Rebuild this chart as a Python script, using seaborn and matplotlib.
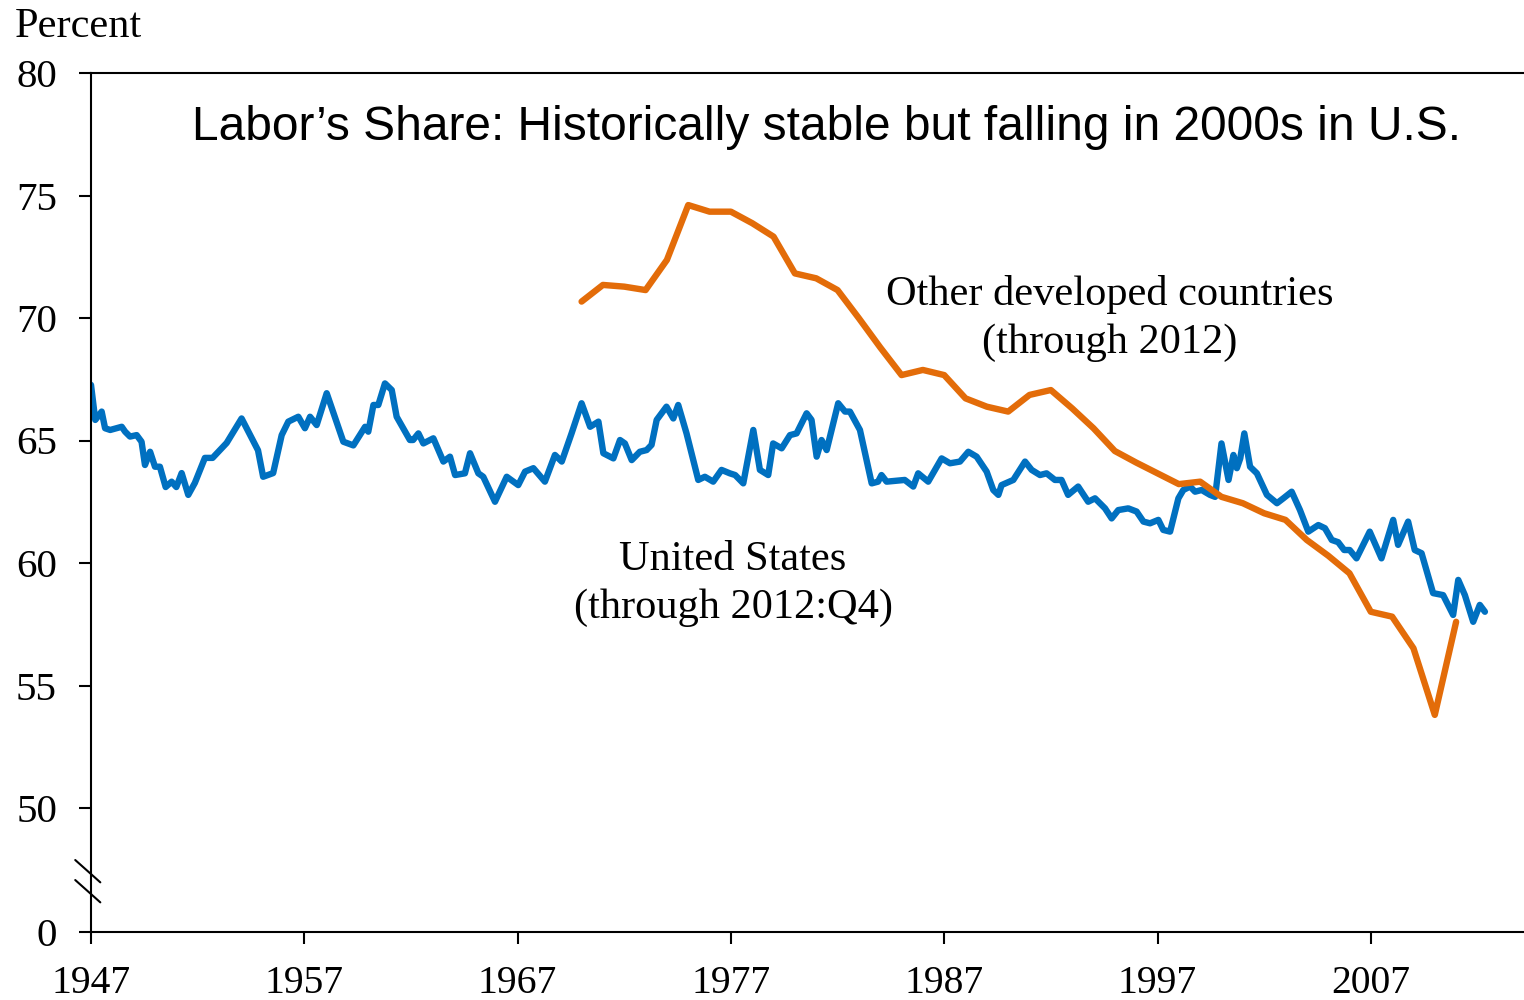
import matplotlib
matplotlib.use('Agg')
import matplotlib.pyplot as plt
import seaborn as sns
import pandas as pd

# United States labor share (fractional year, percent)
us_years = [
    1947.0, 1947.2, 1947.5, 1947.66, 1947.9, 1948.44, 1948.6, 1948.83, 1949.14, 1949.37,
    1949.53, 1949.77, 1950.0, 1950.23, 1950.5, 1950.78, 1951.0, 1951.25, 1951.56, 1951.87,
    1952.34, 1952.7, 1953.36, 1954.06, 1954.83, 1955.07, 1955.54, 1955.94, 1956.25, 1956.72,
    1957.03, 1957.27, 1957.58, 1958.05, 1958.83, 1959.3, 1959.85, 1960.0, 1960.24, 1960.47,
    1960.78, 1961.1, 1961.33, 1961.95, 1962.1, 1962.35, 1962.58, 1963.05, 1963.52, 1963.83,
    1964.07, 1964.53, 1964.77, 1965.16, 1965.39, 1965.94, 1966.49, 1967.03, 1967.35, 1967.74,
    1968.28, 1968.75, 1969.07, 1969.53, 1970.0, 1970.4, 1970.79, 1971.02, 1971.49, 1971.8,
    1972.03, 1972.35, 1972.73, 1973.05, 1973.28, 1973.52, 1973.98, 1974.3, 1974.53, 1974.92,
    1975.47, 1975.78, 1976.17, 1976.56, 1976.95, 1977.2, 1977.58, 1978.05, 1978.36, 1978.75,
    1978.98, 1979.38, 1979.77, 1980.08, 1980.55, 1980.78, 1981.02, 1981.25, 1981.49, 1982.03,
    1982.35, 1982.58, 1983.05, 1983.6, 1983.9, 1984.06, 1984.3, 1985.15, 1985.55, 1985.78,
    1986.25, 1986.88, 1987.27, 1987.74, 1988.13, 1988.52, 1988.99, 1989.3, 1989.54, 1989.69,
    1990.24, 1990.79, 1991.1, 1991.49, 1991.8, 1992.19, 1992.5, 1992.81, 1993.28, 1993.75,
    1994.07, 1994.54, 1994.85, 1995.16, 1995.63, 1996.02, 1996.34, 1996.65, 1997.04, 1997.27,
    1997.59, 1997.98, 1998.21, 1998.53, 1998.76, 1999.07, 1999.46, 1999.7, 2000.0, 2000.33,
    2000.56, 2000.72, 2000.88, 2001.07, 2001.34, 2001.66, 2002.13, 2002.6, 2002.9, 2003.29,
    2003.68, 2004.07, 2004.54, 2004.85, 2005.17, 2005.47, 2005.75, 2006.01, 2006.33, 2006.95,
    2007.5, 2008.05, 2008.28, 2008.75, 2009.06, 2009.38, 2009.92, 2010.39, 2010.86, 2011.1,
    2011.41, 2011.8, 2012.11, 2012.35,
]
us_share = [
    67.27, 65.84, 66.18, 65.5, 65.43, 65.56, 65.36, 65.16, 65.22, 64.95,
    64.0, 64.54, 63.93, 63.93, 63.1, 63.32, 63.1, 63.67, 62.78, 63.27,
    64.29, 64.29, 64.9, 65.9, 64.6, 63.52, 63.67, 65.22, 65.77, 65.97,
    65.5, 65.97, 65.63, 66.93, 64.95, 64.8, 65.56, 65.36, 66.45, 66.45,
    67.33, 67.06, 65.97, 65.02, 65.02, 65.29, 64.88, 65.09, 64.14, 64.34,
    63.59, 63.66, 64.48, 63.66, 63.52, 62.5, 63.52, 63.18, 63.73, 63.87,
    63.32, 64.41, 64.14, 65.29, 66.52, 65.56, 65.77, 64.48, 64.27, 65.02,
    64.88, 64.2, 64.54, 64.61, 64.82, 65.84, 66.38, 65.9, 66.45, 65.29,
    63.39, 63.52, 63.32, 63.8, 63.66, 63.59, 63.25, 65.43, 63.8, 63.59,
    64.88, 64.68, 65.22, 65.29, 66.11, 65.84, 64.34, 65.02, 64.61, 66.52,
    66.18, 66.18, 65.43, 63.25, 63.32, 63.59, 63.32, 63.39, 63.12, 63.66,
    63.32, 64.27, 64.07, 64.14, 64.54, 64.34, 63.73, 62.98, 62.78, 63.18,
    63.39, 64.14, 63.8, 63.59, 63.66, 63.39, 63.39, 62.78, 63.12, 62.5,
    62.64, 62.23, 61.82, 62.16, 62.23, 62.1, 61.69, 61.62, 61.76, 61.35,
    61.28, 62.64, 62.98, 63.12, 62.91, 62.98, 62.78, 62.7, 64.88, 63.39,
    64.41, 63.87, 64.27, 65.29, 63.93, 63.66, 62.78, 62.44, 62.64, 62.91,
    62.16, 61.28, 61.55, 61.42, 60.94, 60.85, 60.53, 60.53, 60.19, 61.28,
    60.19, 61.76, 60.74, 61.69, 60.53, 60.4, 58.77, 58.69, 57.88, 59.31,
    58.69, 57.6, 58.29, 58.01,
]

# Other developed countries, annual
other_years = list(range(1970, 2012))
other_share = [
    70.67, 71.35, 71.28, 71.14, 72.37, 74.61, 74.34, 74.34, 73.87, 73.32,
    71.82, 71.62, 71.14, 69.99, 68.8, 67.67, 67.88, 67.67, 66.72, 66.38,
    66.18, 66.86, 67.06, 66.31, 65.5, 64.57, 64.1, 63.66, 63.22, 63.32,
    62.7, 62.44, 62.03, 61.76, 60.94, 60.3, 59.58, 58.01, 57.81, 56.52,
    53.8, 57.6,
]

x_ticks = [1947, 1957, 1967, 1977, 1987, 1997, 2007]
y_tick_labels = ['0', '50', '55', '60', '65', '70', '75', '80']

BLUE = '#0070C0'
ORANGE = '#E36C09'
W, H = 1524, 1000

sns.set_style("ticks")
plt.rcParams['font.family'] = ['Liberation Serif', 'DejaVu Serif']
plt.rcParams['text.color'] = 'black'

us_df = pd.DataFrame({'year': us_years, 'share': us_share})
other_df = pd.DataFrame({'year': other_years, 'share': other_share})

fig = plt.figure(figsize=(W / 100, H / 100), dpi=100)
ax = fig.add_axes([91 / W, 68 / H, (W - 91) / W, (932 - 73) / H])

sns.lineplot(data=us_df, x='year', y='share', color=BLUE, linewidth=4.6, ax=ax)
sns.lineplot(data=other_df, x='year', y='share', color=ORANGE, linewidth=4.6, ax=ax)

# compressed axis: "0" sits ~5 units below 50 with a break mark
y_bottom = 80 - (932 - 73) / 24.5
ax.set_xlim(1947, 1947 + (W - 91) / 21.33)
ax.set_ylim(y_bottom, 80)
ax.set_xticks(x_ticks)
ax.set_xticklabels([str(x) for x in x_ticks])
ax.set_yticks([y_bottom, 50, 55, 60, 65, 70, 75, 80])
ax.set_yticklabels(y_tick_labels)
ax.set_xlabel('')
ax.set_ylabel('')

for side in ['left', 'bottom', 'top']:
    ax.spines[side].set_linewidth(1.5)
    ax.spines[side].set_color('black')
ax.spines['right'].set_visible(False)
ax.tick_params(axis='both', direction='out', length=8.5, width=1.5, colors='black')
ax.tick_params(axis='y', pad=16, labelsize=29.5)
ax.tick_params(axis='x', pad=15, labelsize=28.5)

# axis break marks
for y0 in [0.0838, 0.0605]:
    ax.plot([-0.011, 0.0065], [y0, y0 - 0.026], transform=ax.transAxes,
            color='black', linewidth=1.5, clip_on=False)

fig.text(15 / W, 1 - 27 / H, 'Percent', fontsize=30.5, va='center', ha='left')

fig.text(826 / W, 1 - 127 / H,
         'Labor\u2019s Share: Historically stable but falling in 2000s in U.S.',
         fontsize=34.5, family=['Liberation Sans', 'DejaVu Sans'], ha='center', va='center')

fig.text(1110 / W, 1 - 295 / H, 'Other developed countries', fontsize=30.5,
         ha='center', va='center')
fig.text(1110 / W, 1 - 343 / H, '(through 2012)', fontsize=30.5, ha='center', va='center')
fig.text(733 / W, 1 - 560 / H, 'United States', fontsize=30.5, ha='center', va='center')
fig.text(733 / W, 1 - 608 / H, '(through 2012:Q4)', fontsize=30.5, ha='center', va='center')

plt.savefig('out.png', dpi=100)
plt.close()
